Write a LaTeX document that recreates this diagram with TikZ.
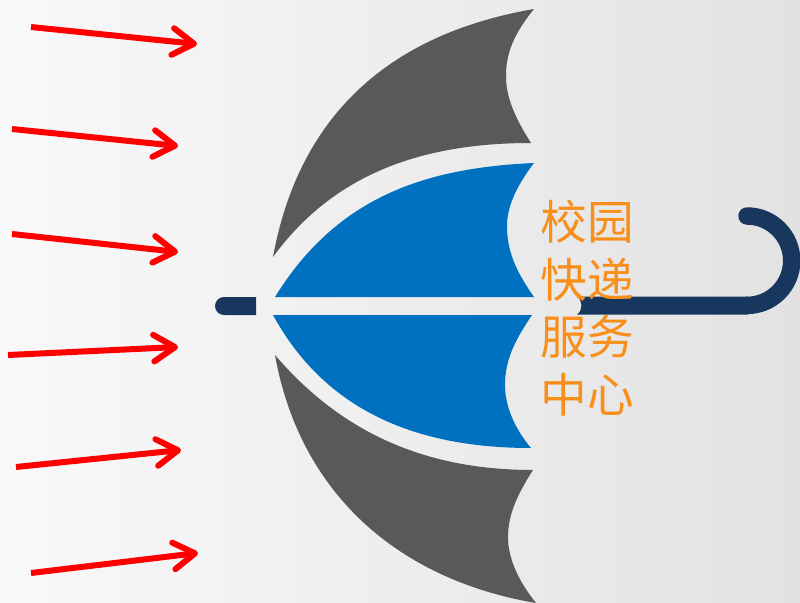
\documentclass[tikz,border=0pt]{standalone}
\usepackage{fontspec}
\newfontfamily\cjk{Noto Sans CJK SC}
\usetikzlibrary{arrows.meta}
\definecolor{wingGrey}{HTML}{595959}
\definecolor{wingBlue}{HTML}{0070C0}
\definecolor{handleBlue}{HTML}{17375E}
\definecolor{txtOrange}{HTML}{F98E1B}
\definecolor{bgLeft}{HTML}{F9F9F9}
\definecolor{bgRight}{HTML}{E2E2E2}
\tikzset{
  wind/.style={draw=red,line width=4.5pt,-{Straight Barb[length=16pt,width=20pt,round,line width=4.5pt]}},
  greywing/.style={fill=wingGrey,draw=none},
  bluewing/.style={fill=wingBlue,draw=none},
  handlefill/.style={fill=handleBlue,draw=none},
}
\begin{document}
\begin{tikzpicture}[x=0.75pt,y=-0.75pt]
\useasboundingbox (0,0) rectangle (800,603);
\shade[left color=bgLeft,right color=bgRight] (0,0) rectangle (800,603);
% wings
\path[greywing] (534,9) .. controls (395,33) and (300,110) .. (273,257)
  .. controls (335,172) and (425,143) .. (531,143)
  .. controls (510,110) and (506,92) .. (506,75)
  .. controls (506,50) and (517,30) .. (534,9) -- cycle;
\path[bluewing] (534,163) .. controls (420,168) and (335,200) .. (275,297)
  -- (534,297) .. controls (515,270) and (507,250) .. (507,226)
  .. controls (507,205) and (518,184) .. (534,163) -- cycle;
\path[bluewing] (273,315) -- (532,315) .. controls (515,340) and (505,360) .. (505,385)
  .. controls (505,408) and (516,430) .. (531,448)
  .. controls (415,448) and (325,410) .. (273,315) -- cycle;
\path[greywing] (275,355) .. controls (335,425) and (415,470) .. (533,470)
  .. controls (517,495) and (508,515) .. (508,537)
  .. controls (508,560) and (520,583) .. (536,603)
  .. controls (400,580) and (300,495) .. (275,355) -- cycle;
% handle
\path[handlefill] (256,297) -- (224,297) arc[start angle=270,end angle=90,radius=9] -- (256,315) -- cycle;
\draw[handleBlue,line width=13.1pt,line cap=round] (747,216) arc[start angle=-90,end angle=90,radius=44.7];
\path[handlefill] (748,296.7) -- (577,296.7) .. controls (583,301) and (583,310) .. (577,314.7) -- (748,314.7) -- cycle;
% text
\node[text=txtOrange,font=\cjk\fontsize{35}{43.2}\selectfont,align=center,inner sep=0pt] (label) at (587,308) {校园\\快递\\服务\\中心};
% arrows
\coordinate (a1s) at (31,27);  \coordinate (a1e) at (197,44);
\coordinate (a2s) at (12,129); \coordinate (a2e) at (178,146);
\coordinate (a3s) at (12,234); \coordinate (a3e) at (178,252);
\coordinate (a4s) at (8,355);  \coordinate (a4e) at (178,347);
\coordinate (a5s) at (16,467); \coordinate (a5e) at (181,450);
\coordinate (a6s) at (31,573); \coordinate (a6e) at (198,553);
\foreach \n in {1,...,6} \draw[wind] (a\n s) -- (a\n e);
\end{tikzpicture}
\end{document}
